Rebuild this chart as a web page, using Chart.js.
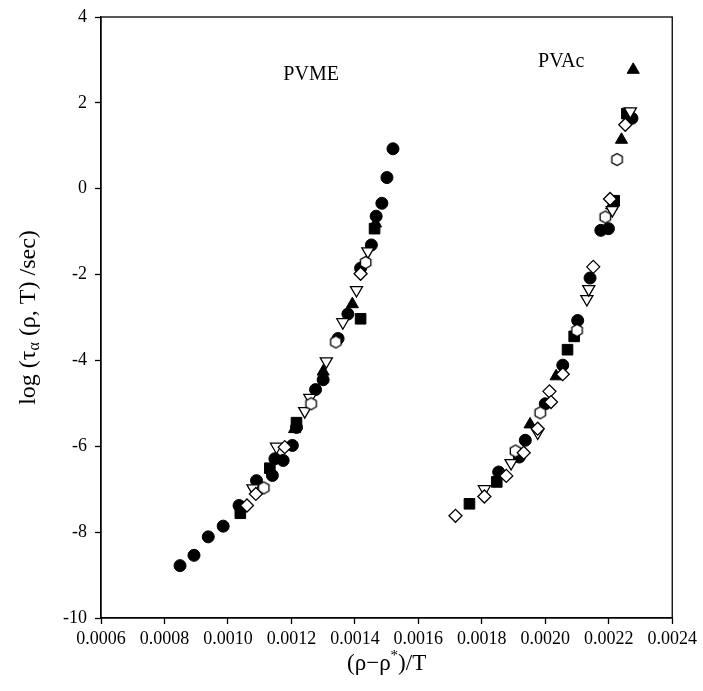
<!DOCTYPE html>
<html>
<head>
<meta charset="utf-8">
<script src="https://cdn.jsdelivr.net/npm/chart.js@4.4.0/dist/chart.umd.min.js"></script>
<style>
  html, body { margin: 0; padding: 0; background: #fff; }
  #wrap { width: 703px; height: 691px; }
</style>
</head>
<body>
<div id="wrap"><canvas id="tauChart" width="703" height="691"></canvas></div>
<script>
// axis ticks
const xTicks = [0.0006, 0.0008, 0.0010, 0.0012, 0.0014, 0.0016, 0.0018, 0.0020, 0.0022, 0.0024];
const yTicks = [-10, -8, -6, -4, -2, 0, 2, 4];

// filled circles
const circX = [0.000849, 0.000893, 0.000938, 0.000985, 0.001035, 0.00109, 0.00114, 0.001148, 0.001174, 0.001203, 0.001216, 0.001276, 0.0013, 0.001347, 0.001378, 0.001418, 0.001452, 0.001467, 0.001485, 0.001501, 0.00152,
               0.001853, 0.001918, 0.001937, 0.0020, 0.002055, 0.002102, 0.002141, 0.002175, 0.002199, 0.002273];
const circY = [-8.78, -8.54, -8.11, -7.86, -7.38, -6.8, -6.68, -6.29, -6.33, -5.98, -5.56, -4.68, -4.45, -3.49, -2.92, -1.85, -1.31, -0.64, -0.34, 0.26, 0.93,
               -6.6, -6.25, -5.86, -5.01, -4.11, -3.07, -2.08, -0.97, -0.93, 1.64];

// filled squares
const sqX = [0.001039, 0.001132, 0.001216, 0.001418, 0.001462,
             0.001761, 0.001847, 0.00207, 0.002091, 0.002217, 0.002257];
const sqY = [-7.56, -6.51, -5.45, -3.03, -0.93,
             -7.34, -6.83, -3.75, -3.44, -0.28, 1.75];

// filled up triangles
const triX = [0.00121, 0.0013, 0.001392, 0.001465,
              0.001952, 0.002034, 0.002209, 0.00224, 0.002277];
const triY = [-5.6, -4.26, -2.69, -0.81,
              -5.49, -4.37, -0.39, 1.14, 2.77];

// open down triangles
const dtriX = [0.001079, 0.001153, 0.001242, 0.001258, 0.00131, 0.001362, 0.001405, 0.001441,
               0.001808, 0.001892, 0.001976, 0.002131, 0.002137, 0.002211, 0.002268];
const dtriY = [-6.98, -6.01, -5.18, -4.87, -4.02, -3.11, -2.36, -1.46,
               -7.0, -6.39, -5.68, -2.57, -2.34, -0.5, 1.8];

// open diamonds
const diaX = [0.00106, 0.001088, 0.001179, 0.001418,
              0.001717, 0.001808, 0.001877, 0.001932, 0.001976, 0.002013, 0.002018, 0.002055, 0.002151, 0.002204, 0.002252];
const diaY = [-7.38, -7.11, -6.02, -1.98,
              -7.62, -7.17, -6.69, -6.15, -5.59, -4.72, -4.97, -4.32, -1.82, -0.24, 1.49];

// open hexagons
const hexX = [0.001113, 0.001262, 0.00134, 0.001434,
              0.001906, 0.001984, 0.0021, 0.002189, 0.002226];
const hexY = [-6.97, -5.01, -3.57, -1.72,
              -6.11, -5.22, -3.3, -0.66, 0.68];

// text labels inside the plot (data coords)
const labels = [
  { text: 'PVME', x: 0.001262, y: 2.66 },
  { text: 'PVAc', x: 0.00205, y: 2.96 }
];

const SERIF = '"Liberation Serif", "DejaVu Serif", serif';

function pts(xs, ys) {
  return xs.map((x, i) => ({ x: x, y: ys[i] }));
}

// small canvas for open hexagon marker
function makeHexagon(r) {
  const size = Math.ceil(r * 2 + 3);
  const c = document.createElement('canvas');
  c.width = size; c.height = size;
  const g = c.getContext('2d');
  const cx = size / 2, cy = size / 2;
  g.beginPath();
  for (let k = 0; k < 6; k++) {
    const a = Math.PI / 6 + k * Math.PI / 3;
    const px = cx + r * Math.cos(a), py = cy + r * Math.sin(a);
    if (k === 0) g.moveTo(px, py); else g.lineTo(px, py);
  }
  g.closePath();
  g.fillStyle = '#fff';
  g.fill();
  g.lineWidth = 1.3;
  g.strokeStyle = '#000';
  g.stroke();
  return c;
}
const hexImg = makeHexagon(6);

// frame + axis titles + in-plot labels
const decorPlugin = {
  id: 'decor',
  afterDraw(chart) {
    const { ctx, chartArea: a, scales } = chart;
    ctx.save();
    ctx.strokeStyle = '#000';
    ctx.lineWidth = 1.3;
    ctx.strokeRect(a.left, a.top, a.right - a.left, a.bottom - a.top);

    ctx.fillStyle = '#000';
    ctx.textBaseline = 'middle';

    // in-plot labels
    ctx.font = '20px ' + SERIF;
    ctx.textAlign = 'center';
    labels.forEach(l => {
      ctx.fillText(l.text, scales.x.getPixelForValue(l.x), scales.y.getPixelForValue(l.y));
    });

    // x title: (ρ−ρ*)/T
    const big = '23px ' + SERIF, small = '15px ' + SERIF;
    const xParts = [['(ρ−ρ', big, 0], ['*', small, -8], [')/T', big, 0]];
    let w = 0;
    xParts.forEach(p => { ctx.font = p[1]; w += ctx.measureText(p[0]).width; });
    let cx = (a.left + a.right) / 2 - w / 2;
    const ty = 664;
    ctx.textAlign = 'left';
    xParts.forEach(p => {
      ctx.font = p[1];
      ctx.fillText(p[0], cx, ty + p[2]);
      cx += ctx.measureText(p[0]).width;
    });

    // y title: log (τα (ρ, T) /sec)
    const yBig = '24px ' + SERIF, ySmall = '16px ' + SERIF;
    const yParts = [['log (τ', yBig, 0], ['α', ySmall, 6], [' (ρ, T) /sec)', yBig, 0]];
    w = 0;
    yParts.forEach(p => { ctx.font = p[1]; w += ctx.measureText(p[0]).width; });
    ctx.translate(29, (a.top + a.bottom) / 2);
    ctx.rotate(-Math.PI / 2);
    let px = -w / 2;
    yParts.forEach(p => {
      ctx.font = p[1];
      ctx.fillText(p[0], px, p[2]);
      px += ctx.measureText(p[0]).width;
    });
    ctx.restore();
  }
};

const openStyle = { backgroundColor: '#fff', borderColor: '#000', borderWidth: 1.3 };
const fillStyle = { backgroundColor: '#000', borderColor: '#000', borderWidth: 1 };

const datasets = [
  Object.assign({ label: 'open diamond', data: pts(diaX, diaY), pointStyle: 'rectRot', pointRadius: 6.5 }, openStyle),
  Object.assign({ label: 'open hexagon', data: pts(hexX, hexY), pointStyle: hexImg }, openStyle),
  Object.assign({ label: 'open down triangle', data: pts(dtriX, dtriY), pointStyle: 'triangle', rotation: 180, pointRadius: 7 }, openStyle),
  Object.assign({ label: 'filled triangle', data: pts(triX, triY), pointStyle: 'triangle', pointRadius: 7 }, fillStyle),
  Object.assign({ label: 'filled square', data: pts(sqX, sqY), pointStyle: 'rect', pointRadius: 7.5 }, fillStyle),
  Object.assign({ label: 'filled circle', data: pts(circX, circY), pointStyle: 'circle', pointRadius: 6 }, fillStyle)
];

const tickFont = { family: SERIF, size: 18, lineHeight: 1 };

new Chart(document.getElementById('tauChart').getContext('2d'), {
  type: 'scatter',
  data: { datasets: datasets },
  options: {
    responsive: false,
    animation: false,
    events: [],
    layout: { padding: { top: 9, right: 30, bottom: 0, left: 0 } },
    plugins: { legend: { display: false }, tooltip: { enabled: false } },
    elements: { point: { hoverRadius: 6 } },
    scales: {
      x: {
        type: 'linear',
        min: xTicks[0],
        max: xTicks[xTicks.length - 1],
        afterBuildTicks: s => { s.ticks = xTicks.map(v => ({ value: v })); },
        afterFit: s => { s.height = 73; },
        grid: { drawOnChartArea: false, drawTicks: true, tickLength: 6, tickColor: '#000', tickWidth: 1.3 },
        border: { display: true, color: '#000', width: 1.3 },
        ticks: {
          color: '#000',
          font: tickFont,
          padding: 6,
          maxRotation: 0,
          autoSkip: false,
          callback: v => Number(v).toFixed(4)
        }
      },
      y: {
        type: 'linear',
        min: yTicks[0],
        max: yTicks[yTicks.length - 1],
        afterBuildTicks: s => { s.ticks = yTicks.map(v => ({ value: v })); },
        afterFit: s => { s.width = 101; },
        grid: { drawOnChartArea: false, drawTicks: true, tickLength: 6, tickColor: '#000', tickWidth: 1.3 },
        border: { display: true, color: '#000', width: 1.3 },
        ticks: {
          color: '#000',
          font: tickFont,
          padding: 8,
          autoSkip: false,
          callback: v => String(v)
        }
      }
    }
  },
  plugins: [decorPlugin]
});
</script>
</body>
</html>
